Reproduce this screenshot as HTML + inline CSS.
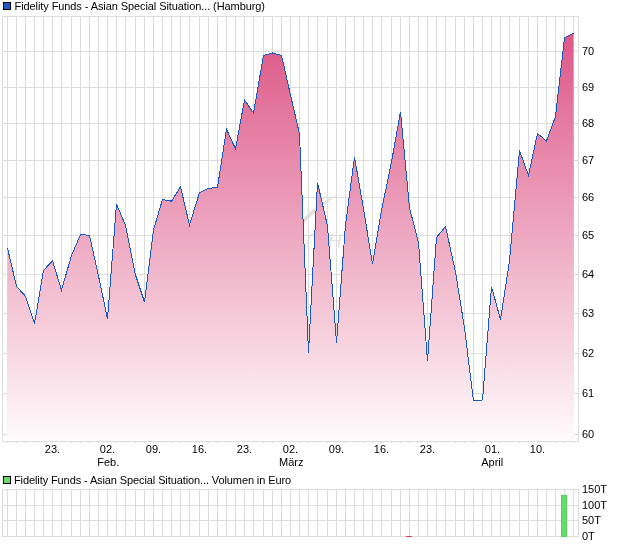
<!DOCTYPE html>
<html><head><meta charset="utf-8"><title>Chart</title>
<style>
html,body{margin:0;padding:0;background:#fff;width:620px;height:546px;overflow:hidden}
svg{display:block;will-change:transform}
text{font-family:"Liberation Sans",Arial,sans-serif;font-size:11px;fill:#000}
</style></head><body>
<svg width="620" height="546" viewBox="0 0 620 546">
<defs><linearGradient id="g1" gradientUnits="userSpaceOnUse" x1="0" y1="33" x2="0" y2="441">
<stop offset="0" stop-color="#dd5787"/><stop offset="1" stop-color="#fffbfc"/></linearGradient></defs>
<rect width="620" height="546" fill="#fff"/>
<path d="M301.5,221 C309,211.5 321,201 339,194.5 C325,202.5 313,213 302.5,225 Z" fill="#e3ded8"/>
<text x="306" y="246" font-size="19" font-style="italic" fill="#e8e4df" style="font-size:19px;fill:#e8e4df">(</text>
<text x="328" y="247" font-size="19" font-style="italic" fill="#e8e4df" style="font-size:19px;fill:#e8e4df">H</text>
<g shape-rendering="crispEdges" stroke="#dcdcdc" stroke-width="1" fill="none">
<line x1="7.5" y1="16" x2="7.5" y2="441"/>
<line x1="16.5" y1="16" x2="16.5" y2="441"/>
<line x1="25.5" y1="16" x2="25.5" y2="441"/>
<line x1="34.5" y1="16" x2="34.5" y2="441"/>
<line x1="43.5" y1="16" x2="43.5" y2="441"/>
<line x1="52.5" y1="16" x2="52.5" y2="441"/>
<line x1="61.5" y1="16" x2="61.5" y2="441"/>
<line x1="71.5" y1="16" x2="71.5" y2="441"/>
<line x1="80.5" y1="16" x2="80.5" y2="441"/>
<line x1="89.5" y1="16" x2="89.5" y2="441"/>
<line x1="98.5" y1="16" x2="98.5" y2="441"/>
<line x1="107.5" y1="16" x2="107.5" y2="441"/>
<line x1="116.5" y1="16" x2="116.5" y2="441"/>
<line x1="125.5" y1="16" x2="125.5" y2="441"/>
<line x1="135.5" y1="16" x2="135.5" y2="441"/>
<line x1="144.5" y1="16" x2="144.5" y2="441"/>
<line x1="153.5" y1="16" x2="153.5" y2="441"/>
<line x1="162.5" y1="16" x2="162.5" y2="441"/>
<line x1="171.5" y1="16" x2="171.5" y2="441"/>
<line x1="180.5" y1="16" x2="180.5" y2="441"/>
<line x1="189.5" y1="16" x2="189.5" y2="441"/>
<line x1="199.5" y1="16" x2="199.5" y2="441"/>
<line x1="208.5" y1="16" x2="208.5" y2="441"/>
<line x1="217.5" y1="16" x2="217.5" y2="441"/>
<line x1="226.5" y1="16" x2="226.5" y2="441"/>
<line x1="235.5" y1="16" x2="235.5" y2="441"/>
<line x1="244.5" y1="16" x2="244.5" y2="441"/>
<line x1="253.5" y1="16" x2="253.5" y2="441"/>
<line x1="263.5" y1="16" x2="263.5" y2="441"/>
<line x1="272.5" y1="16" x2="272.5" y2="441"/>
<line x1="281.5" y1="16" x2="281.5" y2="441"/>
<line x1="290.5" y1="16" x2="290.5" y2="441"/>
<line x1="299.5" y1="16" x2="299.5" y2="441"/>
<line x1="308.5" y1="16" x2="308.5" y2="441"/>
<line x1="317.5" y1="16" x2="317.5" y2="441"/>
<line x1="327.5" y1="16" x2="327.5" y2="441"/>
<line x1="336.5" y1="16" x2="336.5" y2="441"/>
<line x1="345.5" y1="16" x2="345.5" y2="441"/>
<line x1="354.5" y1="16" x2="354.5" y2="441"/>
<line x1="363.5" y1="16" x2="363.5" y2="441"/>
<line x1="372.5" y1="16" x2="372.5" y2="441"/>
<line x1="381.5" y1="16" x2="381.5" y2="441"/>
<line x1="391.5" y1="16" x2="391.5" y2="441"/>
<line x1="400.5" y1="16" x2="400.5" y2="441"/>
<line x1="409.5" y1="16" x2="409.5" y2="441"/>
<line x1="418.5" y1="16" x2="418.5" y2="441"/>
<line x1="427.5" y1="16" x2="427.5" y2="441"/>
<line x1="436.5" y1="16" x2="436.5" y2="441"/>
<line x1="445.5" y1="16" x2="445.5" y2="441"/>
<line x1="455.5" y1="16" x2="455.5" y2="441"/>
<line x1="464.5" y1="16" x2="464.5" y2="441"/>
<line x1="473.5" y1="16" x2="473.5" y2="441"/>
<line x1="482.5" y1="16" x2="482.5" y2="441"/>
<line x1="491.5" y1="16" x2="491.5" y2="441"/>
<line x1="500.5" y1="16" x2="500.5" y2="441"/>
<line x1="509.5" y1="16" x2="509.5" y2="441"/>
<line x1="519.5" y1="16" x2="519.5" y2="441"/>
<line x1="528.5" y1="16" x2="528.5" y2="441"/>
<line x1="537.5" y1="16" x2="537.5" y2="441"/>
<line x1="546.5" y1="16" x2="546.5" y2="441"/>
<line x1="555.5" y1="16" x2="555.5" y2="441"/>
<line x1="564.5" y1="16" x2="564.5" y2="441"/>
<line x1="573.5" y1="16" x2="573.5" y2="441"/>
<line x1="2" y1="51.5" x2="579" y2="51.5"/>
<line x1="2" y1="87.5" x2="579" y2="87.5"/>
<line x1="2" y1="123.5" x2="579" y2="123.5"/>
<line x1="2" y1="160.5" x2="579" y2="160.5"/>
<line x1="2" y1="197.5" x2="579" y2="197.5"/>
<line x1="2" y1="235.5" x2="579" y2="235.5"/>
<line x1="2" y1="274.5" x2="579" y2="274.5"/>
<line x1="2" y1="313.5" x2="579" y2="313.5"/>
<line x1="2" y1="353.5" x2="579" y2="353.5"/>
<line x1="2" y1="393.5" x2="579" y2="393.5"/>
<line x1="2" y1="434.5" x2="579" y2="434.5"/>
<rect x="2.5" y="16.5" width="576" height="425"/>
<line x1="7.5" y1="442" x2="7.5" y2="443"/>
<line x1="16.5" y1="442" x2="16.5" y2="443"/>
<line x1="25.5" y1="442" x2="25.5" y2="443"/>
<line x1="34.5" y1="442" x2="34.5" y2="443"/>
<line x1="43.5" y1="442" x2="43.5" y2="443"/>
<line x1="52.5" y1="442" x2="52.5" y2="443"/>
<line x1="61.5" y1="442" x2="61.5" y2="443"/>
<line x1="71.5" y1="442" x2="71.5" y2="443"/>
<line x1="80.5" y1="442" x2="80.5" y2="443"/>
<line x1="89.5" y1="442" x2="89.5" y2="443"/>
<line x1="98.5" y1="442" x2="98.5" y2="443"/>
<line x1="107.5" y1="442" x2="107.5" y2="443"/>
<line x1="116.5" y1="442" x2="116.5" y2="443"/>
<line x1="125.5" y1="442" x2="125.5" y2="443"/>
<line x1="135.5" y1="442" x2="135.5" y2="443"/>
<line x1="144.5" y1="442" x2="144.5" y2="443"/>
<line x1="153.5" y1="442" x2="153.5" y2="443"/>
<line x1="162.5" y1="442" x2="162.5" y2="443"/>
<line x1="171.5" y1="442" x2="171.5" y2="443"/>
<line x1="180.5" y1="442" x2="180.5" y2="443"/>
<line x1="189.5" y1="442" x2="189.5" y2="443"/>
<line x1="199.5" y1="442" x2="199.5" y2="443"/>
<line x1="208.5" y1="442" x2="208.5" y2="443"/>
<line x1="217.5" y1="442" x2="217.5" y2="443"/>
<line x1="226.5" y1="442" x2="226.5" y2="443"/>
<line x1="235.5" y1="442" x2="235.5" y2="443"/>
<line x1="244.5" y1="442" x2="244.5" y2="443"/>
<line x1="253.5" y1="442" x2="253.5" y2="443"/>
<line x1="263.5" y1="442" x2="263.5" y2="443"/>
<line x1="272.5" y1="442" x2="272.5" y2="443"/>
<line x1="281.5" y1="442" x2="281.5" y2="443"/>
<line x1="290.5" y1="442" x2="290.5" y2="443"/>
<line x1="299.5" y1="442" x2="299.5" y2="443"/>
<line x1="308.5" y1="442" x2="308.5" y2="443"/>
<line x1="317.5" y1="442" x2="317.5" y2="443"/>
<line x1="327.5" y1="442" x2="327.5" y2="443"/>
<line x1="336.5" y1="442" x2="336.5" y2="443"/>
<line x1="345.5" y1="442" x2="345.5" y2="443"/>
<line x1="354.5" y1="442" x2="354.5" y2="443"/>
<line x1="363.5" y1="442" x2="363.5" y2="443"/>
<line x1="372.5" y1="442" x2="372.5" y2="443"/>
<line x1="381.5" y1="442" x2="381.5" y2="443"/>
<line x1="391.5" y1="442" x2="391.5" y2="443"/>
<line x1="400.5" y1="442" x2="400.5" y2="443"/>
<line x1="409.5" y1="442" x2="409.5" y2="443"/>
<line x1="418.5" y1="442" x2="418.5" y2="443"/>
<line x1="427.5" y1="442" x2="427.5" y2="443"/>
<line x1="436.5" y1="442" x2="436.5" y2="443"/>
<line x1="445.5" y1="442" x2="445.5" y2="443"/>
<line x1="455.5" y1="442" x2="455.5" y2="443"/>
<line x1="464.5" y1="442" x2="464.5" y2="443"/>
<line x1="473.5" y1="442" x2="473.5" y2="443"/>
<line x1="482.5" y1="442" x2="482.5" y2="443"/>
<line x1="491.5" y1="442" x2="491.5" y2="443"/>
<line x1="500.5" y1="442" x2="500.5" y2="443"/>
<line x1="509.5" y1="442" x2="509.5" y2="443"/>
<line x1="519.5" y1="442" x2="519.5" y2="443"/>
<line x1="528.5" y1="442" x2="528.5" y2="443"/>
<line x1="537.5" y1="442" x2="537.5" y2="443"/>
<line x1="546.5" y1="442" x2="546.5" y2="443"/>
<line x1="555.5" y1="442" x2="555.5" y2="443"/>
<line x1="564.5" y1="442" x2="564.5" y2="443"/>
<line x1="573.5" y1="442" x2="573.5" y2="443"/>
</g>
<polygon points="7,441 7.5,248 16.5,286.3 25.5,296.3 34.5,323.5 43.5,270.5 52.5,260.7 61.5,290.2 71.5,255.5 80.5,234.5 89.5,235.4 98.5,276 107.5,319 116.5,204 125.5,225.5 135.5,275 144.5,302 153.5,230 162.5,199.5 171.5,201.2 180.5,186.8 189.5,225 199.5,192.7 208.5,188.4 217.5,187.3 226.5,129.3 235.5,148.8 244.5,100 253.5,113 263.5,55.5 272.5,53 281.5,55.3 290.5,95 299.5,134 308.5,352.5 317.5,182.6 327.5,226 336.5,342.6 345.5,225 354.5,157 363.5,209 372.5,264 381.5,210.5 391.5,162 400.5,111.7 409.5,207.8 418.5,242.6 427.5,361 436.5,237.4 445.5,226.5 455.5,272 464.5,328 473.5,401 482.5,400 491.5,286.7 500.5,319.5 509.5,261 519.5,150.5 528.5,175.5 537.5,133.5 546.5,141 555.5,116.4 564.5,38 573.5,33.1 574,441" fill="url(#g1)"/>
<polyline points="7.5,248 16.5,286.3 25.5,296.3 34.5,323.5 43.5,270.5 52.5,260.7 61.5,290.2 71.5,255.5 80.5,234.5 89.5,235.4 98.5,276 107.5,319 116.5,204 125.5,225.5 135.5,275 144.5,302 153.5,230 162.5,199.5 171.5,201.2 180.5,186.8 189.5,225 199.5,192.7 208.5,188.4 217.5,187.3 226.5,129.3 235.5,148.8 244.5,100 253.5,113 263.5,55.5 272.5,53 281.5,55.3 290.5,95 299.5,134 308.5,352.5 317.5,182.6 327.5,226 336.5,342.6 345.5,225 354.5,157 363.5,209 372.5,264 381.5,210.5 391.5,162 400.5,111.7 409.5,207.8 418.5,242.6 427.5,361 436.5,237.4 445.5,226.5 455.5,272 464.5,328 473.5,401 482.5,400 491.5,286.7 500.5,319.5 509.5,261 519.5,150.5 528.5,175.5 537.5,133.5 546.5,141 555.5,116.4 564.5,38 573.5,33.1" fill="none" stroke="#1757be" stroke-width="1" shape-rendering="crispEdges"/>
<text x="582" y="55">70</text>
<text x="582" y="91">69</text>
<text x="582" y="127">68</text>
<text x="582" y="164">67</text>
<text x="582" y="201">66</text>
<text x="582" y="239">65</text>
<text x="582" y="278">64</text>
<text x="582" y="317">63</text>
<text x="582" y="357">62</text>
<text x="582" y="397">61</text>
<text x="582" y="438">60</text>
<text x="52.5" y="453" text-anchor="middle">23.</text>
<text x="107.5" y="453" text-anchor="middle">02.</text>
<text x="108.25" y="466" text-anchor="middle">Feb.</text>
<text x="153.5" y="453" text-anchor="middle">09.</text>
<text x="199.5" y="453" text-anchor="middle">16.</text>
<text x="244.5" y="453" text-anchor="middle">23.</text>
<text x="290.5" y="453" text-anchor="middle">02.</text>
<text x="291.25" y="466" text-anchor="middle">März</text>
<text x="336.5" y="453" text-anchor="middle">09.</text>
<text x="381.5" y="453" text-anchor="middle">16.</text>
<text x="427.5" y="453" text-anchor="middle">23.</text>
<text x="492.5" y="453" text-anchor="middle">01.</text>
<text x="492.25" y="466" text-anchor="middle">April</text>
<text x="537.5" y="453" text-anchor="middle">10.</text>
<rect x="3.5" y="2.5" width="7" height="7" fill="#1d5ac4" stroke="#000" stroke-width="1" shape-rendering="crispEdges"/>
<text x="14.5" y="10" textLength="250.5" lengthAdjust="spacing">Fidelity Funds - Asian Special Situation... (Hamburg)</text>
<g shape-rendering="crispEdges" stroke="#dcdcdc" stroke-width="1" fill="none">
<line x1="7.5" y1="489" x2="7.5" y2="536"/>
<line x1="16.5" y1="489" x2="16.5" y2="536"/>
<line x1="25.5" y1="489" x2="25.5" y2="536"/>
<line x1="34.5" y1="489" x2="34.5" y2="536"/>
<line x1="43.5" y1="489" x2="43.5" y2="536"/>
<line x1="52.5" y1="489" x2="52.5" y2="536"/>
<line x1="61.5" y1="489" x2="61.5" y2="536"/>
<line x1="71.5" y1="489" x2="71.5" y2="536"/>
<line x1="80.5" y1="489" x2="80.5" y2="536"/>
<line x1="89.5" y1="489" x2="89.5" y2="536"/>
<line x1="98.5" y1="489" x2="98.5" y2="536"/>
<line x1="107.5" y1="489" x2="107.5" y2="536"/>
<line x1="116.5" y1="489" x2="116.5" y2="536"/>
<line x1="125.5" y1="489" x2="125.5" y2="536"/>
<line x1="135.5" y1="489" x2="135.5" y2="536"/>
<line x1="144.5" y1="489" x2="144.5" y2="536"/>
<line x1="153.5" y1="489" x2="153.5" y2="536"/>
<line x1="162.5" y1="489" x2="162.5" y2="536"/>
<line x1="171.5" y1="489" x2="171.5" y2="536"/>
<line x1="180.5" y1="489" x2="180.5" y2="536"/>
<line x1="189.5" y1="489" x2="189.5" y2="536"/>
<line x1="199.5" y1="489" x2="199.5" y2="536"/>
<line x1="208.5" y1="489" x2="208.5" y2="536"/>
<line x1="217.5" y1="489" x2="217.5" y2="536"/>
<line x1="226.5" y1="489" x2="226.5" y2="536"/>
<line x1="235.5" y1="489" x2="235.5" y2="536"/>
<line x1="244.5" y1="489" x2="244.5" y2="536"/>
<line x1="253.5" y1="489" x2="253.5" y2="536"/>
<line x1="263.5" y1="489" x2="263.5" y2="536"/>
<line x1="272.5" y1="489" x2="272.5" y2="536"/>
<line x1="281.5" y1="489" x2="281.5" y2="536"/>
<line x1="290.5" y1="489" x2="290.5" y2="536"/>
<line x1="299.5" y1="489" x2="299.5" y2="536"/>
<line x1="308.5" y1="489" x2="308.5" y2="536"/>
<line x1="317.5" y1="489" x2="317.5" y2="536"/>
<line x1="327.5" y1="489" x2="327.5" y2="536"/>
<line x1="336.5" y1="489" x2="336.5" y2="536"/>
<line x1="345.5" y1="489" x2="345.5" y2="536"/>
<line x1="354.5" y1="489" x2="354.5" y2="536"/>
<line x1="363.5" y1="489" x2="363.5" y2="536"/>
<line x1="372.5" y1="489" x2="372.5" y2="536"/>
<line x1="381.5" y1="489" x2="381.5" y2="536"/>
<line x1="391.5" y1="489" x2="391.5" y2="536"/>
<line x1="400.5" y1="489" x2="400.5" y2="536"/>
<line x1="409.5" y1="489" x2="409.5" y2="536"/>
<line x1="418.5" y1="489" x2="418.5" y2="536"/>
<line x1="427.5" y1="489" x2="427.5" y2="536"/>
<line x1="436.5" y1="489" x2="436.5" y2="536"/>
<line x1="445.5" y1="489" x2="445.5" y2="536"/>
<line x1="455.5" y1="489" x2="455.5" y2="536"/>
<line x1="464.5" y1="489" x2="464.5" y2="536"/>
<line x1="473.5" y1="489" x2="473.5" y2="536"/>
<line x1="482.5" y1="489" x2="482.5" y2="536"/>
<line x1="491.5" y1="489" x2="491.5" y2="536"/>
<line x1="500.5" y1="489" x2="500.5" y2="536"/>
<line x1="509.5" y1="489" x2="509.5" y2="536"/>
<line x1="519.5" y1="489" x2="519.5" y2="536"/>
<line x1="528.5" y1="489" x2="528.5" y2="536"/>
<line x1="537.5" y1="489" x2="537.5" y2="536"/>
<line x1="546.5" y1="489" x2="546.5" y2="536"/>
<line x1="555.5" y1="489" x2="555.5" y2="536"/>
<line x1="564.5" y1="489" x2="564.5" y2="536"/>
<line x1="573.5" y1="489" x2="573.5" y2="536"/>
<line x1="2" y1="489.5" x2="579" y2="489.5"/>
<line x1="2" y1="505.5" x2="579" y2="505.5"/>
<line x1="2" y1="520.5" x2="579" y2="520.5"/>
<line x1="2" y1="536.5" x2="579" y2="536.5"/>
<rect x="2.5" y="489.5" width="576" height="47"/>
</g>
<rect x="406" y="536" width="6" height="1" fill="#d9464e" shape-rendering="crispEdges"/>
<rect x="561.5" y="495.5" width="5" height="41" fill="#68da6c" stroke="#55d45a" stroke-width="1" shape-rendering="crispEdges"/>
<text x="582" y="493">150T</text>
<text x="582" y="509">100T</text>
<text x="582" y="524">50T</text>
<text x="582" y="540">0T</text>
<rect x="3.5" y="476.5" width="7" height="7" fill="#66d96a" stroke="#000" stroke-width="1" shape-rendering="crispEdges"/>
<text x="14" y="484" textLength="277.1" lengthAdjust="spacing">Fidelity Funds - Asian Special Situation... Volumen in Euro</text>
</svg>
</body></html>
